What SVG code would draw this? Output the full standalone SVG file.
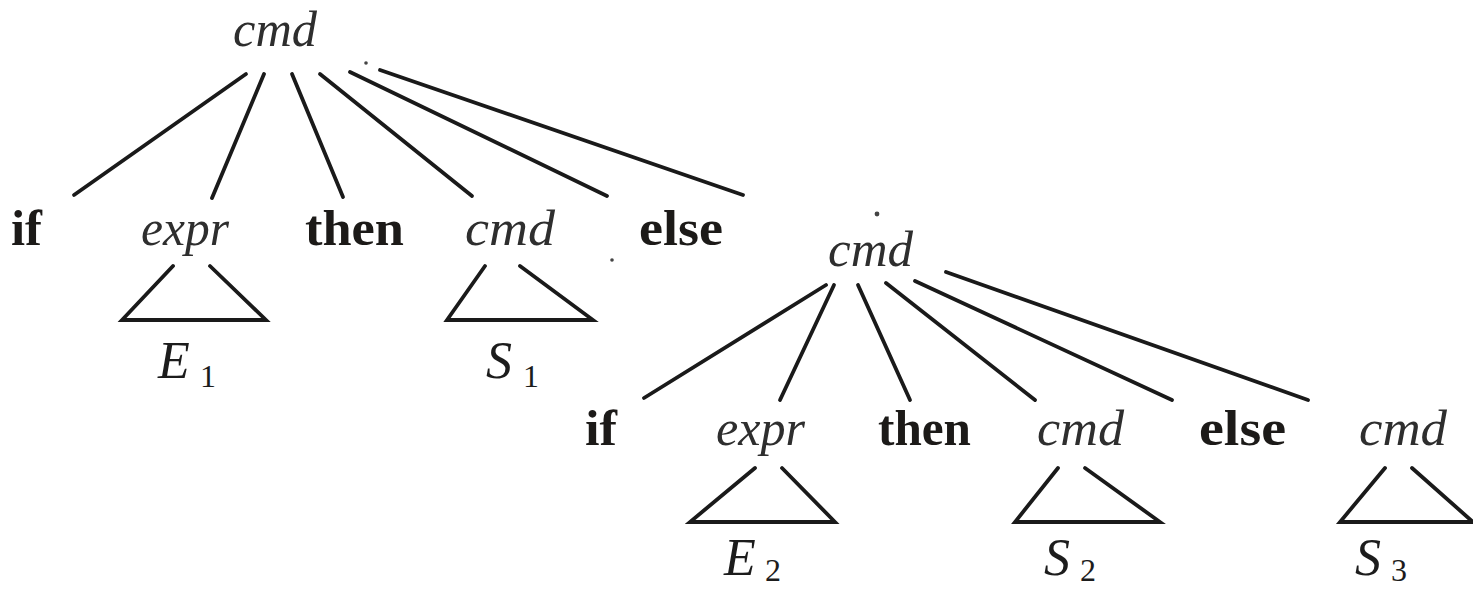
<svg xmlns="http://www.w3.org/2000/svg" width="1473" height="590" viewBox="0 0 1473 590">
<style>
.bg{fill:#ffffff}
.it{font-family:"Liberation Serif","Times New Roman",serif;font-style:italic;font-size:50px;fill:#2e2e2e}
.bd{font-family:"Liberation Serif","Times New Roman",serif;font-weight:bold;font-size:50px;fill:#1c1a18}
.sym{font-family:"Liberation Serif","Times New Roman",serif;font-style:italic;font-size:52px;fill:#1c1c1c}
.sub{font-family:"Liberation Serif","Times New Roman",serif;font-size:32px;fill:#1c1c1c}
.ln{stroke:#1a1a1a;stroke-width:3.8;stroke-linecap:round;stroke-linejoin:miter;fill:none}
.speck{fill:#444}
</style>
<rect class="bg" x="0" y="0" width="1473" height="590"/>
<g id="connectors">
<line class="ln" x1="246" y1="74" x2="74" y2="195"/>
<line class="ln" x1="264" y1="74" x2="212" y2="198"/>
<line class="ln" x1="292" y1="74" x2="343" y2="197"/>
<line class="ln" x1="320" y1="74" x2="472" y2="196"/>
<line class="ln" x1="350" y1="72" x2="607" y2="196"/>
<line class="ln" x1="380" y1="70" x2="743" y2="195"/>
<line class="ln" x1="826" y1="285" x2="644" y2="398"/>
<line class="ln" x1="834" y1="285" x2="780" y2="400"/>
<line class="ln" x1="858" y1="285" x2="910" y2="400"/>
<line class="ln" x1="886" y1="283" x2="1035" y2="400"/>
<line class="ln" x1="915" y1="281" x2="1172" y2="400"/>
<line class="ln" x1="946" y1="272" x2="1308" y2="400"/>
</g>
<g id="specks">
<circle class="speck" cx="366" cy="63" r="1.8"/>
<circle class="speck" cx="612" cy="260" r="1.8"/>
<circle class="speck" cx="877" cy="214" r="2.4"/>
</g>
<g id="n-cmd-root"><text class="it" x="233" y="46" textLength="84" lengthAdjust="spacingAndGlyphs">cmd</text></g>
<g id="n-if-1"><text class="bd" x="11" y="245" textLength="31" lengthAdjust="spacingAndGlyphs">if</text></g>
<g id="n-expr-1"><text class="it" x="141" y="245" textLength="88" lengthAdjust="spacingAndGlyphs">expr</text>
<path class="ln" d="M173 266 L122 320 L266 320 L210 266"/>
<text class="sym" x="158" y="378">E</text><text class="sub" x="200" y="387">1</text></g>
<g id="n-then-1"><text class="bd" x="305" y="245" textLength="99" lengthAdjust="spacingAndGlyphs">then</text></g>
<g id="n-cmd-1"><text class="it" x="465" y="245" textLength="90" lengthAdjust="spacingAndGlyphs">cmd</text>
<path class="ln" d="M485 266 L447 320 L593 320 L520 266"/>
<text class="sym" x="486" y="378">S</text><text class="sub" x="523" y="387">1</text></g>
<g id="n-else-1"><text class="bd" x="639" y="245" textLength="84" lengthAdjust="spacingAndGlyphs">else</text></g>
<g id="n-cmd-2"><text class="it" x="828" y="266" textLength="85" lengthAdjust="spacingAndGlyphs">cmd</text></g>
<g id="n-if-2"><text class="bd" x="585" y="445" textLength="32" lengthAdjust="spacingAndGlyphs">if</text></g>
<g id="n-expr-2"><text class="it" x="716" y="445" textLength="89" lengthAdjust="spacingAndGlyphs">expr</text>
<path class="ln" d="M755 468 L690 522 L835 522 L782 468"/>
<text class="sym" x="724" y="575">E</text><text class="sub" x="765" y="581">2</text></g>
<g id="n-then-2"><text class="bd" x="878" y="445" textLength="93" lengthAdjust="spacingAndGlyphs">then</text></g>
<g id="n-cmd-3"><text class="it" x="1037" y="445" textLength="87" lengthAdjust="spacingAndGlyphs">cmd</text>
<path class="ln" d="M1058 468 L1015 522 L1160 522 L1085 468"/>
<text class="sym" x="1044" y="575">S</text><text class="sub" x="1080" y="581">2</text></g>
<g id="n-else-2"><text class="bd" x="1199" y="445" textLength="87" lengthAdjust="spacingAndGlyphs">else</text></g>
<g id="n-cmd-4"><text class="it" x="1359" y="445" textLength="88" lengthAdjust="spacingAndGlyphs">cmd</text>
<path class="ln" d="M1385 468 L1340 522 L1473 522 M1412 468 L1473 522"/>
<text class="sym" x="1355" y="575">S</text><text class="sub" x="1391" y="581">3</text></g>
</svg>
